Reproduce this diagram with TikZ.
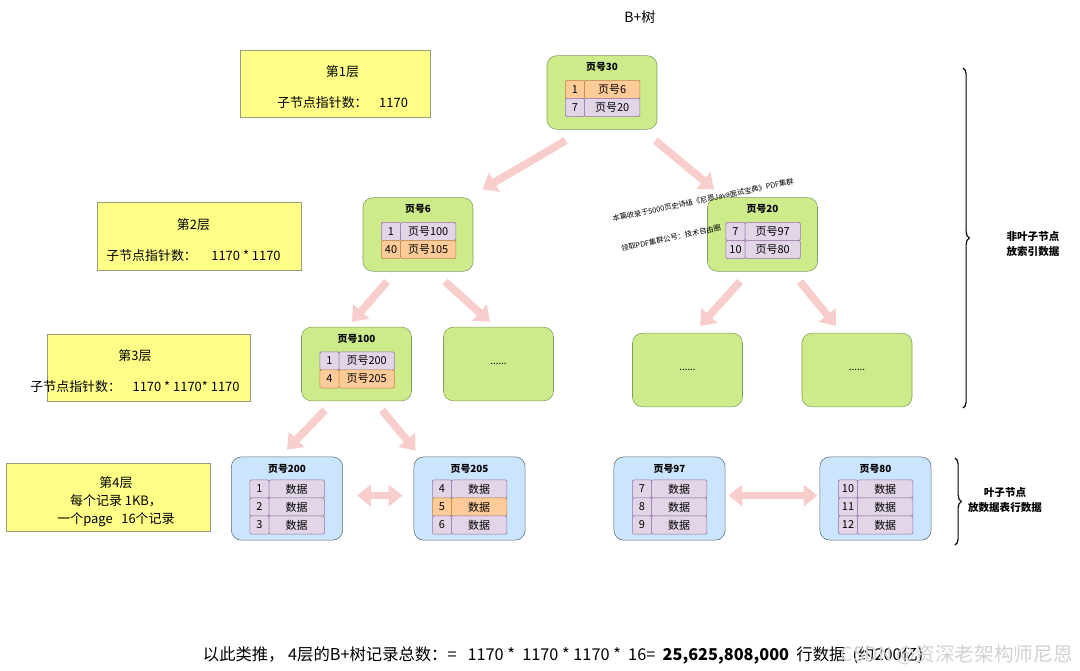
\documentclass[tikz,border=0pt]{standalone}
\usepackage{fontspec}
\setmainfont{Noto Sans CJK SC}
\usepackage{tikz}
\usetikzlibrary{positioning, calc, arrows.meta, decorations.pathreplacing}
\definecolor{layerfill}{HTML}{FFFF88}
\definecolor{layerline}{HTML}{9A9A80}
\definecolor{pagefill}{HTML}{CDEB8B}
\definecolor{pageline}{HTML}{7E9C62}
\definecolor{leaffill}{HTML}{CCE5FF}
\definecolor{leafline}{HTML}{5E6A78}
\definecolor{keyfill}{HTML}{E1D5E7}
\definecolor{keyline}{HTML}{9673A6}
\definecolor{hotfill}{HTML}{FFCC99}
\definecolor{hotline}{HTML}{B88346}
\definecolor{arrowpink}{HTML}{F8CECC}
\tikzset{
  layer/.style={rectangle, draw=layerline, fill=layerfill},
  layertext/.style={align=center, font=\fontsize{9.2}{13}\selectfont},
  pagebox/.style={rectangle, draw=pageline, fill=pagefill, rounded corners=7pt, minimum width=2.75cm, minimum height=1.84cm},
  leafbox/.style={rectangle, draw=leafline, fill=leaffill, rounded corners=7pt, minimum width=2.78cm, minimum height=2.08cm},
  pagetitle/.style={font=\fontsize{7}{8}\selectfont\bfseries},
  normkey/.style={rectangle, draw=keyline, fill=keyfill, rounded corners=1pt, outer sep=0pt, minimum width=0.48cm, minimum height=0.46cm, inner sep=0pt, font=\fontsize{7.8}{9}\selectfont},
  normval/.style={normkey, minimum width=1.38cm},
  hotkey/.style={normkey, draw=hotline, fill=hotfill},
  hotval/.style={normval, draw=hotline, fill=hotfill},
  bigarrow/.style={draw=arrowpink, line width=5.5pt, -{Triangle[length=10pt,width=15pt]}},
  botharrow/.style={bigarrow, {Triangle[length=10pt,width=15pt]}-{Triangle[length=10pt,width=15pt]}},
  sidebrace/.style={draw=black, line width=0.8pt, decorate, decoration={brace, amplitude=4.5pt}},
  sidelabel/.style={align=center, font=\fontsize{7.5}{10}\selectfont\bfseries},
  notetext/.style={rotate=11.7, font=\fontsize{5.2}{6}\selectfont},
}

\begin{document}
\begin{tikzpicture}[x=0.025cm, y=-0.025cm]
    \useasboundingbox (0,0) rectangle (1080,671);
    \node (title) at (640,17) {\fontsize{10}{12}\selectfont B+树};

    % layer notes
    \node (lay1) [layer, minimum width=4.75cm, minimum height=1.68cm] at (335,83.5) {};
    \node (lay1txt) [layertext] at (342.5,87) {第1层\\[9pt]子节点指针数：\ \ \ \ 1170};
    \node (lay2) [layer, minimum width=5.1cm, minimum height=1.7cm] at (199,236) {};
    \node (lay2txt) [layertext] at (193.5,240) {第2层\\[9pt]子节点指针数：\ \ \ \ \ 1170 * 1170};
    \node (lay3) [layer, minimum width=5.08cm, minimum height=1.68cm] at (148.5,367.5) {};
    \node (lay3txt) [layertext] at (135,371) {第3层\\[9pt]子节点指针数：\ \ \ \ 1170 * 1170* 1170};
    \node (lay4) [layer, minimum width=5.1cm, minimum height=1.7cm] at (108,497) {};
    \node (lay4txt) [layertext, font=\fontsize{9.2}{12.8}\selectfont] at (116,502) {第4层\\每个记录 1KB，\\一个page \ \ 16个记录};

    % index pages
    \node (pg30) [pagebox] at (602,92.5) {};
    \node (pg30t) [pagetitle] at ($(pg30.north)+(0,12)$) {页号30};
    \node (pg30k1) [hotkey] at ($(pg30)+(-27,-3)$) {1};
    \node (pg30v1) [hotval, right=0pt of pg30k1] {页号6};
    \node (pg30k2) [normkey] at ($(pg30)+(-27,15)$) {7};
    \node (pg30v2) [normval, right=0pt of pg30k2] {页号20};

    \node (pg6) [pagebox] at (418,234.5) {};
    \node (pg6t) [pagetitle] at ($(pg6.north)+(0,12)$) {页号6};
    \node (pg6k1) [normkey] at ($(pg6)+(-27,-3)$) {1};
    \node (pg6v1) [normval, right=0pt of pg6k1] {页号100};
    \node (pg6k2) [hotkey] at ($(pg6)+(-27,15)$) {40};
    \node (pg6v2) [hotval, right=0pt of pg6k2] {页号105};

    \node (pg20) [pagebox] at (762.5,234.5) {};
    \node (pg20t) [pagetitle] at ($(pg20.north)+(0,12)$) {页号20};
    \node (pg20k1) [normkey] at ($(pg20)+(-27,-3)$) {7};
    \node (pg20v1) [normval, right=0pt of pg20k1] {页号97};
    \node (pg20k2) [normkey] at ($(pg20)+(-27,15)$) {10};
    \node (pg20v2) [normval, right=0pt of pg20k2] {页号80};

    \node (pg100) [pagebox] at (356.5,364) {};
    \node (pg100t) [pagetitle] at ($(pg100.north)+(0,12)$) {页号100};
    \node (pg100k1) [normkey] at ($(pg100)+(-27,-3)$) {1};
    \node (pg100v1) [normval, right=0pt of pg100k1] {页号200};
    \node (pg100k2) [hotkey] at ($(pg100)+(-27,15)$) {4};
    \node (pg100v2) [hotval, right=0pt of pg100k2] {页号205};

    \node (dotA) [pagebox, font=\fontsize{7}{8}\selectfont] at (498.5,364) {......};
    \node (dotB) [pagebox, font=\fontsize{7}{8}\selectfont] at (687.5,370) {......};
    \node (dotC) [pagebox, font=\fontsize{7}{8}\selectfont] at (857,370) {......};

    % leaf pages
    \foreach \pg/\px/\ka/\kb/\kc in {200/287/1/2/3, 97/669.5/7/8/9, 80/875.5/10/11/12}{
      \node (pg\pg) [leafbox] at (\px,498.5) {};
      \node (pg\pg t) [pagetitle] at ($(pg\pg.north)+(0,12)$) {页号\pg};
      \foreach \k [count=\r] in {\ka,\kb,\kc}{
        \node (pg\pg k\r) [normkey] at ($(pg\pg)+(-27.5,18*\r-27.5)$) {\k};
        \node (pg\pg v\r) [normval, right=0pt of pg\pg k\r] {数据};
      }
    }
    \node (pg205) [leafbox] at (469.5,498.5) {};
    \node (pg205t) [pagetitle] at ($(pg205.north)+(0,12)$) {页号205};
    \node (pg205k1) [normkey] at ($(pg205)+(-27.5,-9.5)$) {4};
    \node (pg205v1) [normval, right=0pt of pg205k1] {数据};
    \node (pg205k2) [hotkey] at ($(pg205)+(-27.5,8.5)$) {5};
    \node (pg205v2) [hotval, right=0pt of pg205k2] {数据};
    \node (pg205k3) [normkey] at ($(pg205)+(-27.5,26.5)$) {6};
    \node (pg205v3) [normval, right=0pt of pg205k3] {数据};

    % arrows
    \draw [bigarrow] ($(pg30.south west)+(19,11)$) -- ($(pg6.north east)+(9,-8)$);
    \draw [bigarrow] ($(pg30.south east)+(-2,11)$) -- ($(pg20.north west)+(7,-8)$);
    \draw [bigarrow] ($(pg6.south)+(-31,10)$) -- ($(pg100.north)+(-4.5,-5)$);
    \draw [bigarrow] ($(pg6.south)+(27,10)$) -- ($(dotA.north)+(-8.5,-5)$);
    \draw [bigarrow] ($(pg20.south)+(-22.5,10)$) -- ($(dotB.north)+(12.5,-7)$);
    \draw [bigarrow] ($(pg20.south)+(37.5,10)$) -- ($(dotC.north)+(-21,-7)$);
    \draw [bigarrow] ($(pg100.south)+(-31.5,9)$) -- ($(pg200.north)+(0,-7)$);
    \draw [bigarrow] ($(pg100.south)+(25.5,9)$) -- ($(pg205.north west)+(2,-6)$);
    \draw [botharrow] ($(pg200.east)+(14,-3)$) -- ($(pg205.west)+(-11,-3)$);
    \draw [botharrow] ($(pg97.east)+(3,-3)$) -- ($(pg80.west)+(-2,-3)$);

    % watermark notes
    \node (note1) [notetext] at (703,200) {本篇收录于5000页史诗级《尼恩Java面试宝典》PDF集群};
    \node (note2) [notetext] at (671,238) {领取PDF集群公号：技术自由圈};

    % braces
    \coordinate (brA1) at (963,68);
    \coordinate (brA2) at (963,408);
    \coordinate (brB1) at (955,458);
    \coordinate (brB2) at (955,545);
    \draw [sidebrace] (brA1) -- (brA2);
    \draw [sidebrace] (brB1) -- (brB2);
    \node (nonleaf) [sidelabel] at (1033,244) {非叶子节点\\放索引数据};
    \node (leaf) [sidelabel] at (1005,500) {叶子节点\\放数据表行数据};

    % summary
    \node (total) [anchor=west, font=\fontsize{11.6}{13}\selectfont] at (198,655) {以此类推，\ 4层的B+树记录总数：=\ \ \ 1170 *\ \ 1170 * 1170 *\ \ 16=\ \ \textbf{25,625,808,000}\ \ 行数据\ \ (约200亿)};
    \node (mark) [anchor=east, text=gray!35, font=\fontsize{14}{16}\selectfont] at (1078,655) {CSDN @资深老架构师尼恩};
\end{tikzpicture}
\end{document}
